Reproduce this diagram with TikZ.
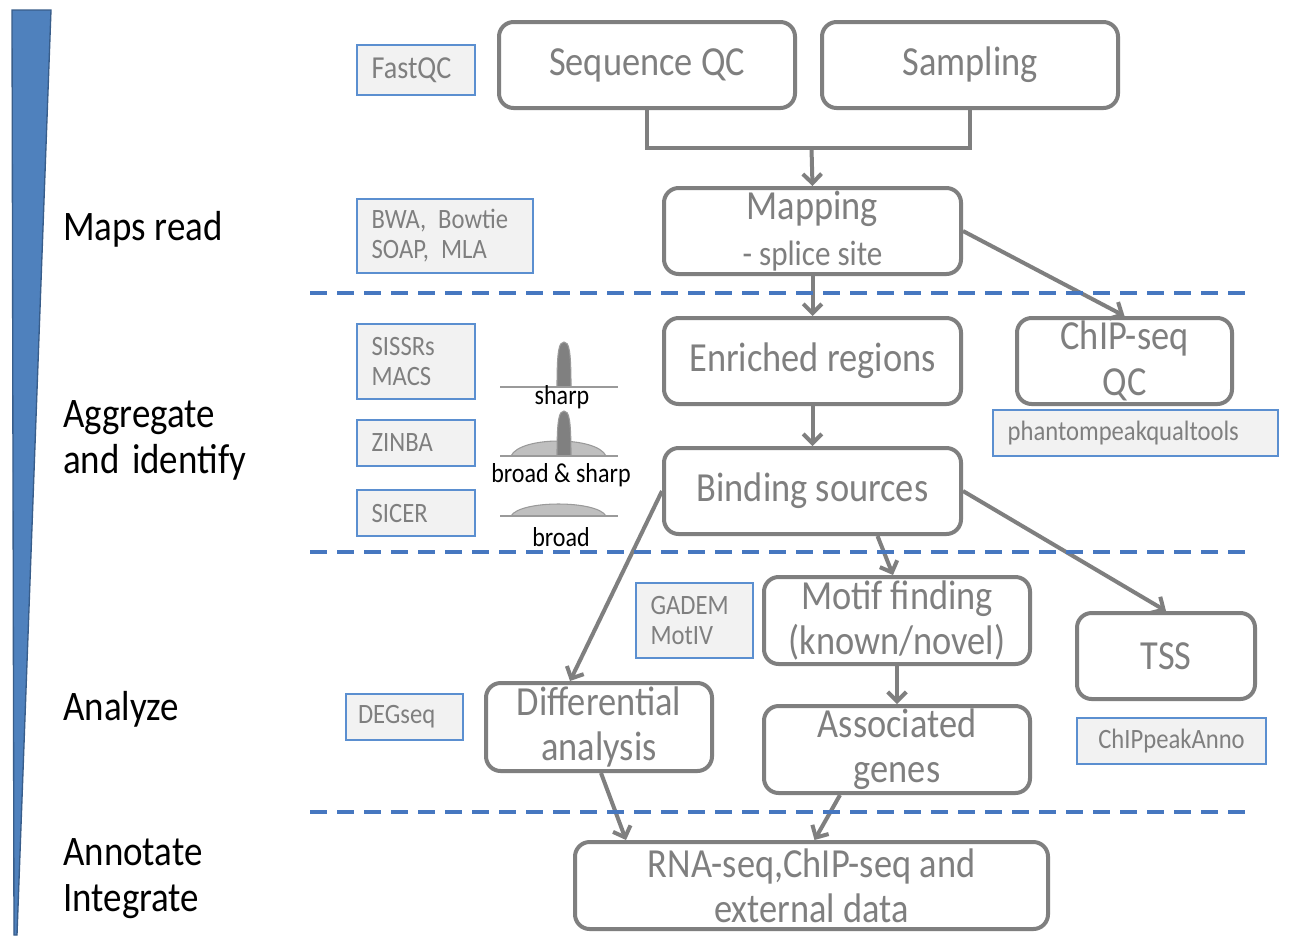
\documentclass[tikz,border=0pt]{standalone}
\usepackage{fontspec}
\setmainfont{Carlito}[FakeStretch=0.88]
\usetikzlibrary{arrows.meta,calc}
\definecolor{boxgray}{HTML}{7F7F7F}
\definecolor{txtgray}{HTML}{7F7F7F}
\definecolor{toolblue}{HTML}{5B8FD0}
\definecolor{toolfill}{HTML}{F2F2F2}
\definecolor{dashblue}{HTML}{4677C0}
\definecolor{wedgeblue}{HTML}{4F81BD}
\definecolor{wedgedark}{HTML}{385D8A}
\definecolor{peakdark}{HTML}{808080}
\definecolor{peaklight}{HTML}{BFBFBF}
\definecolor{peakline}{HTML}{9A9A9A}
\begin{document}
\begin{tikzpicture}[x=0.75pt,y=-0.75pt,
 stage/.style={draw=boxgray, line width=3pt, rounded corners=11pt, fill=white, text=txtgray, inner sep=0pt, align=center, font=\fontsize{31}{34}\selectfont, minimum height=64.5pt},
 tool/.style={draw=toolblue, line width=1.4pt, fill=toolfill, text=txtgray, inner xsep=11pt, inner ysep=0pt, align=left, font=\fontsize{21}{22.5}\selectfont},
 phase/.style={anchor=west, align=left, inner sep=0pt, font=\fontsize{31.5}{34}\selectfont},
 peaklabel/.style={inner sep=0pt, font=\fontsize{20.5}{22}\selectfont},
 link/.style={draw=boxgray, line width=3pt},
 conn/.style={draw=boxgray, line width=3pt, -{Straight Barb[length=7pt,width=14pt]}},
 sep/.style={draw=dashblue, line width=3pt, dash pattern=on 12.75pt off 7.5pt}]
\useasboundingbox (0,0) rectangle (1295,951);
\fill[white] (0,0) rectangle (1295,951);

% wedge
\filldraw[fill=wedgeblue, draw=wedgedark, line width=1pt] (12,10) -- (51,10) -- (17,935) -- (14,935) -- cycle;

% phase labels
\node[phase] (p1) at (63,229) {Maps read};
\node[phase] (p2) at (63,440.5) {Aggregate\\and\hspace{3pt} identify};
\node[phase] (p3) at (63,709) {Analyze};
\node[phase] (p4) at (63,878.5) {Annotate\\Integrate};

% stage boxes
\node[stage, minimum width=222pt] (seqqc) at (647,65) {Sequence QC};
\node[stage, minimum width=222pt] (sampling) at (970,65) {Sampling};
\node[stage, minimum width=222.75pt] (mapping) at (812.5,231) {Mapping\\{\fontsize{26.5}{30}\selectfont - splice site}};
\node[stage, minimum width=222.75pt] (enriched) at (812.5,361) {Enriched regions};
\node[stage, minimum width=161.25pt] (chipqc) at (1124.5,361) {ChIP-seq\\QC};
\node[stage, minimum width=222.75pt] (binding) at (812.5,491) {Binding sources};
\node[stage, minimum width=199.5pt, minimum height=65.25pt] (motif) at (897,620.5) {Motif finding\\(known/novel)};
\node[stage, minimum width=133.5pt] (tss) at (1166,656) {TSS};
\node[stage, minimum width=169.5pt, minimum height=66pt] (diff) at (599,727) {Differential\\analysis};
\node[stage, minimum width=199.5pt, minimum height=65.25pt] (assoc) at (897,749.5) {Associated\\genes};
\node[stage, minimum width=354.75pt, minimum height=65.25pt] (rna) at (811.5,885.5) {RNA-seq,ChIP-seq and\\external data};

% tool boxes
\node[tool, text width=66.5pt, minimum height=37.5pt, font=\fontsize{24}{26}\selectfont] (fastqc) at (416,70) {FastQC};
\node[tool, text width=110pt, minimum height=55.5pt] (bwa) at (445,236) {BWA,\hspace{2pt} Bowtie\\SOAP,\hspace{2pt} MLA};
\node[tool, text width=66.5pt, minimum height=56.25pt] (sissrs) at (416,361.5) {SISSRs\\MACS};
\node[tool, text width=66.5pt, minimum height=34.5pt] (zinba) at (416,443) {ZINBA};
\node[tool, text width=66.5pt, minimum height=34.5pt] (sicer) at (416,513) {SICER};
\node[tool, text width=191.75pt, minimum height=34.5pt] (phantom) at (1135.5,433) {phantompeakqualtools};
\node[tool, text width=65.75pt, minimum height=56.25pt] (gadem) at (694.5,620.5) {GADEM\\MotIV};
\node[tool, inner xsep=9pt, text width=69.75pt, minimum height=34.5pt] (degseq) at (404.5,717) {DEGseq};
\node[tool, text width=119.75pt, minimum height=34.5pt, align=center] (chippeak) at (1171.5,741) {ChIPpeakAnno};

% peaks: sharp
\filldraw[fill=peakdark, draw=peakline, line width=0.8pt] (557,387) .. controls (557,350) and (559,342) .. (564,342) .. controls (569,342) and (571,350) .. (571,387) -- cycle;
\draw[draw=peakline, line width=1.3pt] (500,387) -- (618,387);
\node[peaklabel] (lsharp) at (562,397) {sharp};
% broad & sharp
\filldraw[fill=peaklight, draw=peakline, line width=0.8pt] (511,456) .. controls (520,436) and (597,436) .. (606,456) -- cycle;
\filldraw[fill=peakdark, draw=peakline, line width=0.8pt] (557,456) .. controls (557,419) and (559,411) .. (564,411) .. controls (569,411) and (571,419) .. (571,456) -- cycle;
\draw[draw=peakline, line width=1.3pt] (500,456) -- (618,456);
\node[peaklabel] (lbs) at (561,475) {broad \& sharp};
% broad
\filldraw[fill=peaklight, draw=peakline, line width=0.8pt] (511,516) .. controls (520,500) and (597,500) .. (606,516) -- cycle;
\draw[draw=peakline, line width=1.3pt] (500,516) -- (618,516);
\node[peaklabel] (lbroad) at (561,537) {broad};

% connectors
\coordinate (join) at (811.5,148);
\draw[link] (seqqc.south) |- (join) -| (sampling.south);
\draw[conn] (join) -- (mapping.north);
\draw[conn] (mapping.south) -- (enriched.north);
\draw[conn] (mapping.east) -- (chipqc.north);
\draw[conn] (enriched.south) -- (binding.north);
\draw[conn] (binding.west) -- ($(diff.north)+(-29,0)$);
\draw[conn] ($(binding.south)+(65,0)$) -- ($(motif.north)+(-4,0)$);
\draw[conn] (binding.east) -- (tss.north);
\draw[conn] (motif.south) -- (assoc.north);
\draw[conn] ($(diff.south)+(2,0)$) -- ($(rna.north west)+(53,0)$);
\draw[conn] ($(assoc.south)+(-57,0)$) -- ($(rna.north)+(3,0)$);

% phase separators
\draw[sep] (310,293) -- (1245,293);
\draw[sep] (310,552) -- (1245,552);
\draw[sep] (310,812) -- (1245,812);
\end{tikzpicture}
\end{document}
